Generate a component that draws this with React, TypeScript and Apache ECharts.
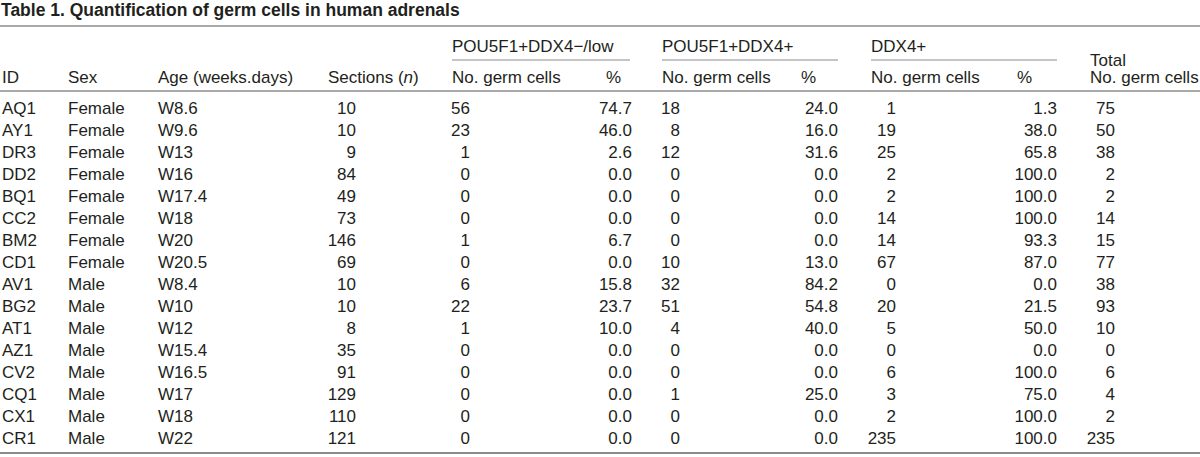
import React, { useEffect, useRef } from "react";
import * as echarts from "echarts";

// ---- data ----
const titleText = "Table 1. Quantification of germ cells in human adrenals";
const ids = ["AQ1", "AY1", "DR3", "DD2", "BQ1", "CC2", "BM2", "CD1", "AV1", "BG2", "AT1", "AZ1", "CV2", "CQ1", "CX1", "CR1"];
const sexes = ["Female", "Female", "Female", "Female", "Female", "Female", "Female", "Female", "Male", "Male", "Male", "Male", "Male", "Male", "Male", "Male"];
const ages = ["W8.6", "W9.6", "W13", "W16", "W17.4", "W18", "W20", "W20.5", "W8.4", "W10", "W12", "W15.4", "W16.5", "W17", "W18", "W22"];
const sections = [10, 10, 9, 84, 49, 73, 146, 69, 10, 10, 8, 35, 91, 129, 110, 121];
const lowCount = [56, 23, 1, 0, 0, 0, 1, 0, 6, 22, 1, 0, 0, 0, 0, 0];
const lowPct = [74.7, 46.0, 2.6, 0.0, 0.0, 0.0, 6.7, 0.0, 15.8, 23.7, 10.0, 0.0, 0.0, 0.0, 0.0, 0.0];
const posCount = [18, 8, 12, 0, 0, 0, 0, 10, 32, 51, 4, 0, 0, 1, 0, 0];
const posPct = [24.0, 16.0, 31.6, 0.0, 0.0, 0.0, 0.0, 13.0, 84.2, 54.8, 40.0, 0.0, 0.0, 25.0, 0.0, 0.0];
const ddxCount = [1, 19, 25, 2, 2, 14, 14, 67, 0, 20, 5, 0, 6, 3, 2, 235];
const ddxPct = [1.3, 38.0, 65.8, 100.0, 100.0, 100.0, 93.3, 87.0, 0.0, 21.5, 50.0, 0.0, 100.0, 75.0, 100.0, 100.0];
const totals = [75, 50, 38, 2, 2, 14, 15, 77, 38, 93, 10, 0, 6, 4, 2, 235];
const groupHeaders = ["POU5F1+DDX4\u2212/low", "POU5F1+DDX4+", "DDX4+"];
const leftHeaders = ["ID", "Sex", "Age (weeks.days)"];
const countHeader = "No. germ cells";
const pctHeader = "%";
const totalHeader = "Total";

// ---- layout / style ----
const W = 1200;
const H = 457;
const FONT_FAMILY = '"Liberation Sans", Arial, sans-serif';
const FS = 17;
const BODY_FONT = `${FS}px ${FONT_FAMILY}`;
const TITLE_FONT = `bold 17.5px ${FONT_FAMILY}`;
const TEXT = "#231f20";
const RULE = "#8c8c8c";

const colId = 2;
const colSex = 68;
const colAge = 158;
const colSecHead = 328;
const colSecVal = 356;
const groups = [
  { left: 452, countRight: 470, pctHead: 606, pctRight: 632, lineEnd: 630 },
  { left: 662, countRight: 680, pctHead: 801, pctRight: 838, lineEnd: 838 },
  { left: 871, countRight: 896, pctHead: 1017, pctRight: 1057, lineEnd: 1057 },
];
const colTotalHead = 1090;
const colTotalVal = 1115;

const yTitle = 10;
const yTopRule = 26;
const yGroup = 46;
const yGroupRule = 60;
const yTotal = 60;
const ySub = 77;
const yHeadRule = 91;
const yBottomRule = 453;

type Col = { x: number; align: "left" | "right"; get: (i: number) => string };
const columns: Col[] = [
  { x: colId, align: "left", get: (i) => ids[i] },
  { x: colSex, align: "left", get: (i) => sexes[i] },
  { x: colAge, align: "left", get: (i) => ages[i] },
  { x: colSecVal, align: "right", get: (i) => String(sections[i]) },
  { x: groups[0].countRight, align: "right", get: (i) => String(lowCount[i]) },
  { x: groups[0].pctRight, align: "right", get: (i) => lowPct[i].toFixed(1) },
  { x: groups[1].countRight, align: "right", get: (i) => String(posCount[i]) },
  { x: groups[1].pctRight, align: "right", get: (i) => posPct[i].toFixed(1) },
  { x: groups[2].countRight, align: "right", get: (i) => String(ddxCount[i]) },
  { x: groups[2].pctRight, align: "right", get: (i) => ddxPct[i].toFixed(1) },
  { x: colTotalVal, align: "right", get: (i) => String(totals[i]) },
];

function txt(text: string, x: number, y: number, font = BODY_FONT, align: "left" | "right" = "left", extra: any = {}) {
  return {
    type: "text",
    silent: true,
    style: {
      text,
      x,
      y,
      font,
      fill: TEXT,
      align,
      textAlign: align,
      verticalAlign: "middle",
      textVerticalAlign: "middle",
      ...extra,
    },
  };
}

function rule(x1: number, x2: number, y: number, lw = 1.5) {
  return {
    type: "line",
    silent: true,
    shape: { x1, y1: y, x2, y2: y },
    style: { stroke: RULE, lineWidth: lw },
  };
}

export default function App() {
  const ref = useRef<HTMLDivElement>(null);
  useEffect(() => {
    if (!ref.current) return;
    const chart = echarts.init(ref.current, null, { renderer: "svg", width: W, height: H });

    const graphics: any[] = [];
    graphics.push(txt(titleText, 1, yTitle, TITLE_FONT));
    graphics.push(rule(0, W, yTopRule, 1.5));
    graphics.push(txt(leftHeaders[0], colId, ySub));
    graphics.push(txt(leftHeaders[1], colSex, ySub));
    graphics.push(txt(leftHeaders[2], colAge, ySub));
    graphics.push({
      type: "text",
      silent: true,
      style: {
        text: "{a|Sections (}{b|n}{a|)}",
        x: colSecHead,
        y: ySub,
        align: "left",
        textAlign: "left",
        verticalAlign: "middle",
        textVerticalAlign: "middle",
        font: BODY_FONT,
        fill: TEXT,
        rich: {
          a: { font: BODY_FONT, fill: TEXT, color: TEXT },
          b: { font: `italic ${FS}px ${FONT_FAMILY}`, fill: TEXT, color: TEXT },
        },
      },
    });
    groups.forEach((g, k) => {
      graphics.push(txt(groupHeaders[k], g.left, yGroup));
      graphics.push(rule(g.left, g.lineEnd, yGroupRule, 1.2));
      graphics.push(txt(countHeader, g.left, ySub));
      graphics.push(txt(pctHeader, g.pctHead, ySub));
    });
    graphics.push(txt(totalHeader, colTotalHead, yTotal));
    graphics.push(txt(countHeader, colTotalHead, ySub));
    graphics.push(rule(0, W, yHeadRule, 1.5));
    graphics.push(rule(0, W, yBottomRule, 1.8));

    chart.setOption({
      animation: false,
      grid: { left: 0, right: 0, top: 97, bottom: 8 },
      xAxis: { type: "value", min: 0, max: W, show: false },
      yAxis: { type: "category", data: ids, inverse: true, show: false },
      graphic: graphics,
      series: [
        {
          type: "custom",
          clip: false,
          silent: true,
          encode: { x: 0, y: 1 },
          data: ids.map((_, i) => [0, i]),
          renderItem: (params: any, api: any) => {
            const i = api.value(1) as number;
            const y = api.coord([0, i])[1];
            return {
              type: "group",
              children: columns.map((c) => ({
                type: "text",
                style: {
                  text: c.get(i),
                  x: api.coord([c.x, i])[0],
                  y,
                  font: BODY_FONT,
                  fill: TEXT,
                  align: c.align,
                  textAlign: c.align,
                  verticalAlign: "middle",
                  textVerticalAlign: "middle",
                },
              })),
            };
          },
        },
      ],
    });
    return () => chart.dispose();
  }, []);
  return (
    <div
      ref={ref}
      style={{ position: "fixed", left: 0, top: 0, width: W, height: H, background: "#fff" }}
    />
  );
}
